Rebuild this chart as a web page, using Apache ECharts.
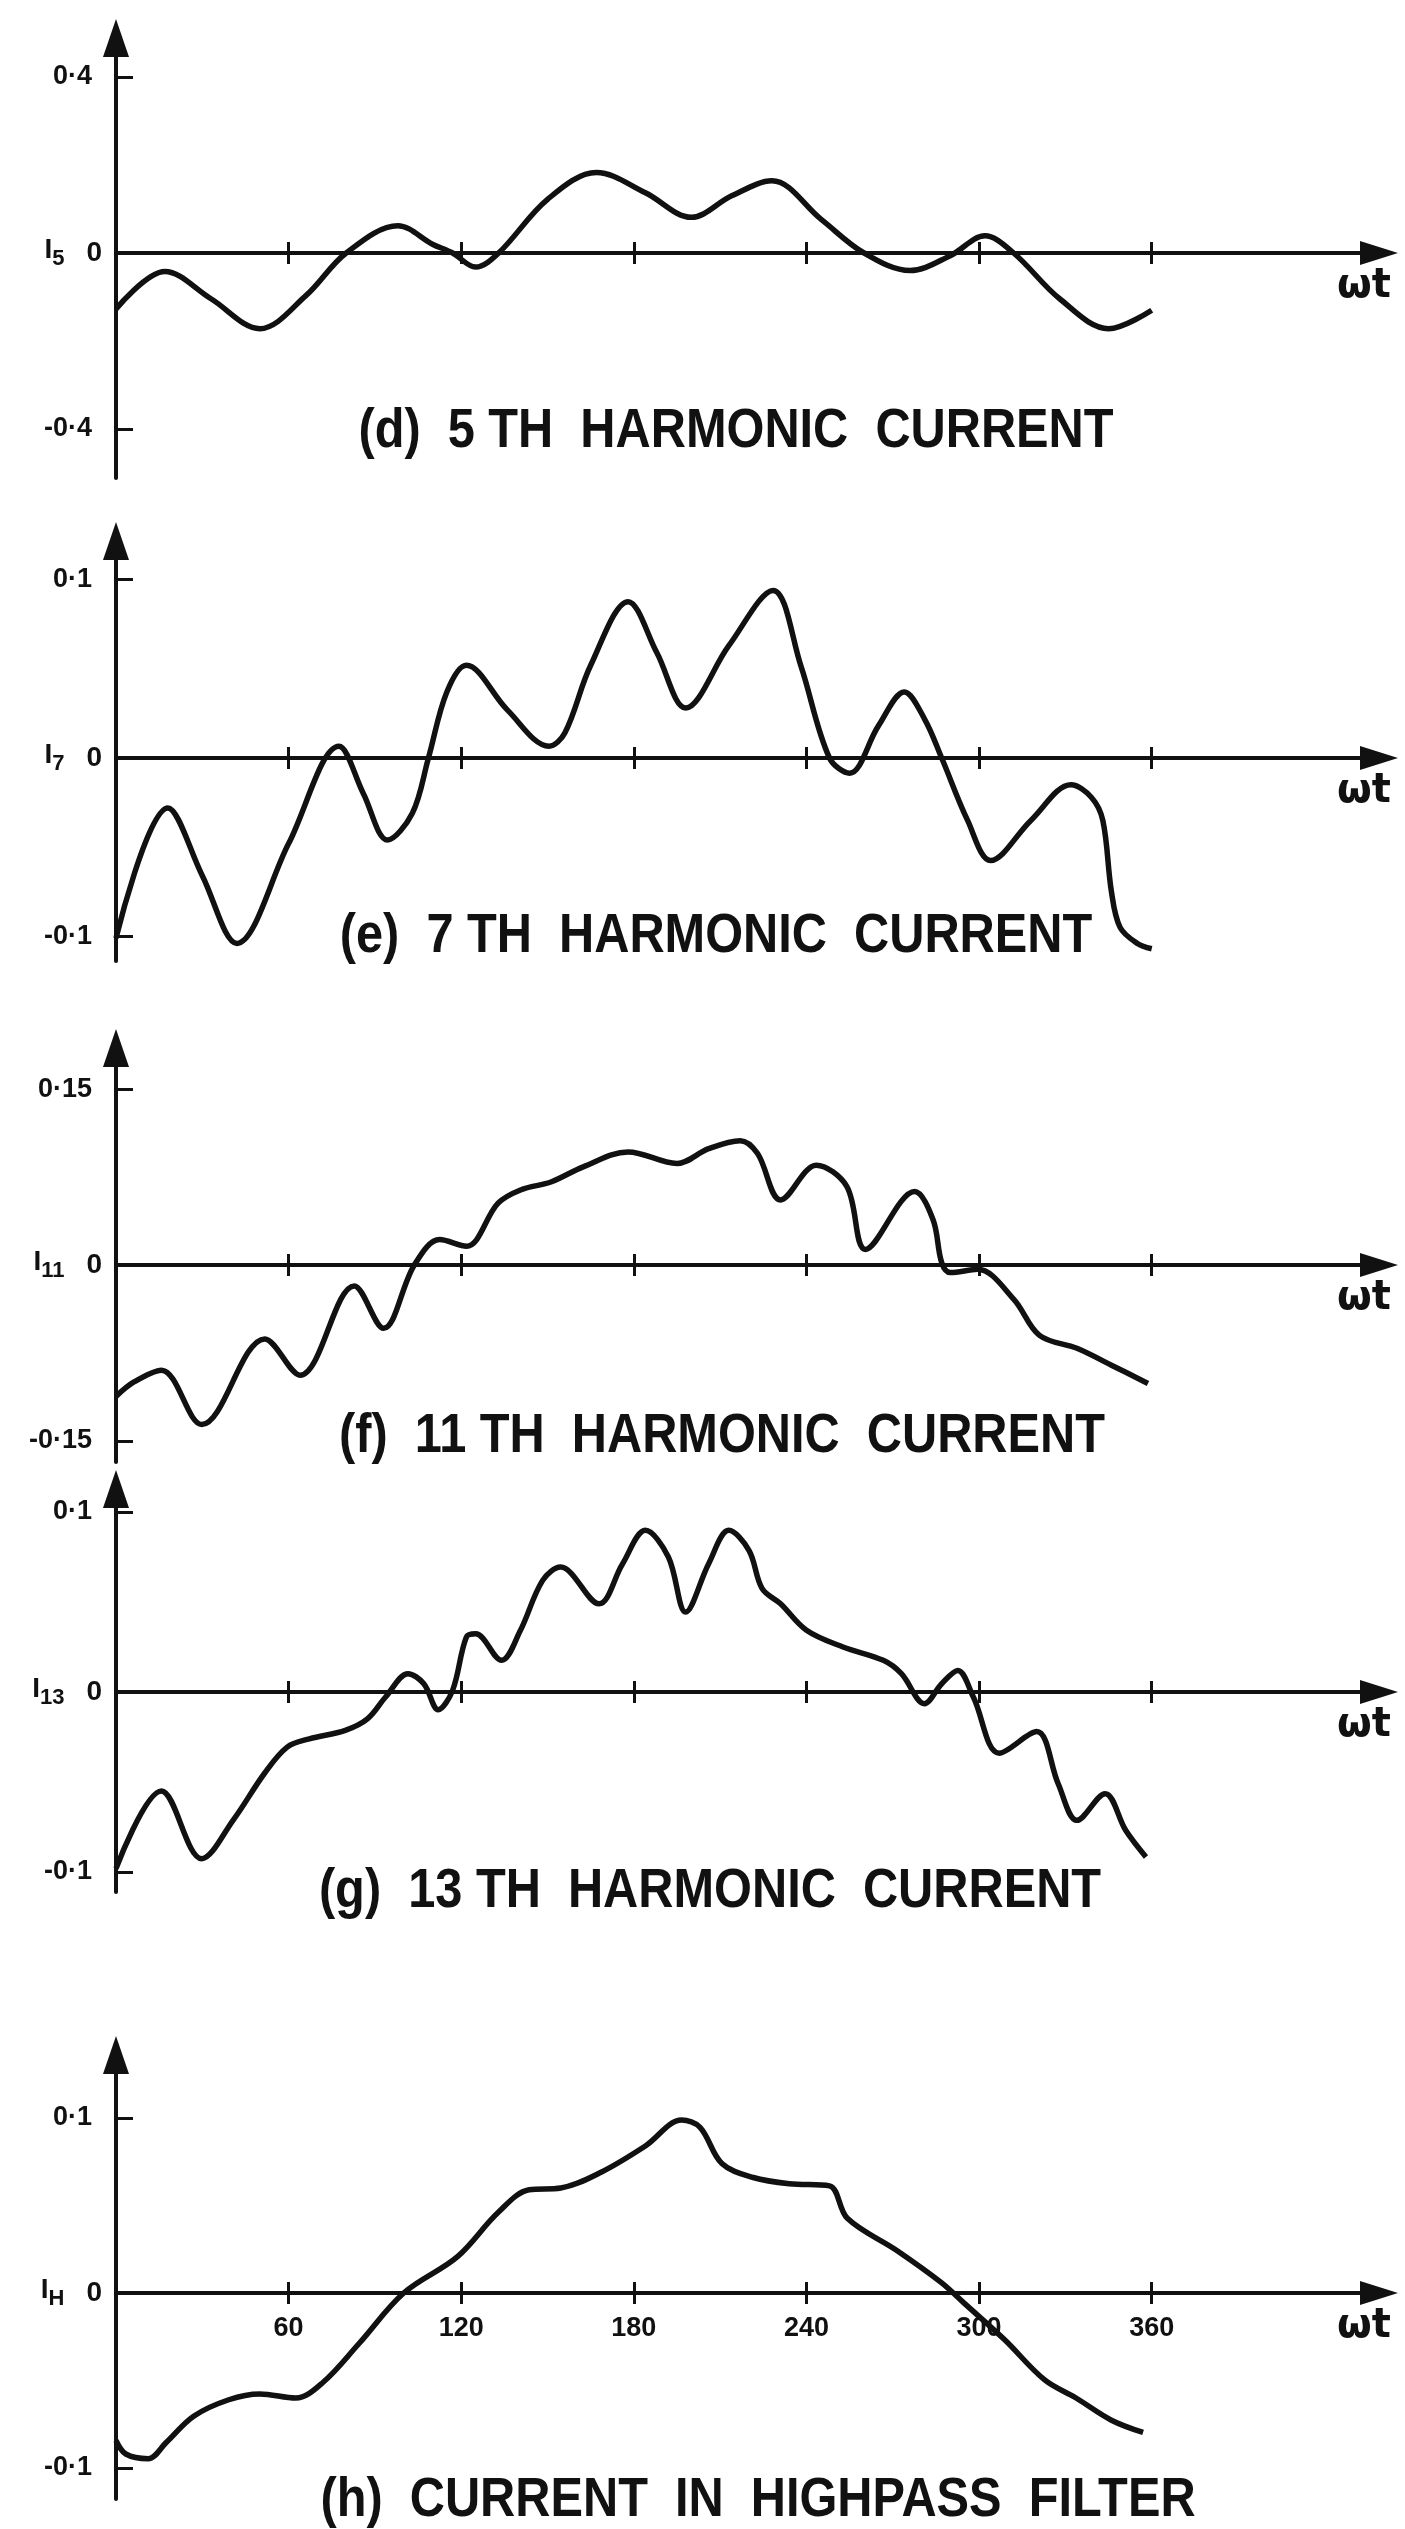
<!DOCTYPE html>
<html>
<head>
<meta charset="utf-8">
<script src="https://cdn.jsdelivr.net/npm/echarts@6.0.0/dist/echarts.min.js"></script>
<style>
html,body{margin:0;padding:0;background:#ffffff;}
#chart{width:1405px;height:2529px;}
</style>
</head>
<body>
<div id="chart"></div>
<script>
// ---------------- data ----------------
const xTickValues = [60, 120, 180, 240, 300, 360];
const xTickLabels = ['60', '120', '180', '240', '300', '360'];

// (d) 5th harmonic current
const dAngle   = [0, 17, 33, 50, 66, 80, 98, 110, 117, 125, 133, 150, 167, 184, 200, 214, 228, 245, 260, 276, 290, 302, 312, 328, 345, 360];
const dCurrent = [-0.127, -0.042, -0.104, -0.172, -0.097, 0, 0.062, 0.02, 0, -0.032, 0, 0.122, 0.183, 0.137, 0.081, 0.13, 0.164, 0.077, 0, -0.04, -0.006, 0.039, 0, -0.104, -0.172, -0.13];

// (e) 7th harmonic current
const eAngle   = [0, 18, 30, 42, 60, 77.5, 86, 94.4, 103, 108.6, 115, 121.8, 136, 150.5, 156, 165, 178, 188, 198, 213, 228.4, 238, 248, 255, 265, 274, 281, 287, 296, 304, 318, 332, 339, 343, 346, 349, 355, 360];
const eCurrent = [-0.101, -0.028, -0.066, -0.104, -0.048, 0.0066, -0.02, -0.046, -0.031, 0, 0.037, 0.052, 0.027, 0.0066, 0.014, 0.052, 0.0877, 0.059, 0.028, 0.063, 0.094, 0.052, 0, -0.0085, 0.018, 0.037, 0.022, 0, -0.035, -0.0575, -0.035, -0.015, -0.022, -0.035, -0.075, -0.095, -0.104, -0.107];

// (f) 11th harmonic current
const fAngle   = [0, 6.4, 15.8, 29.8, 51.7, 64, 82.8, 93, 103.7, 112.5, 121.8, 132.8, 140.6, 151.4, 162.4, 178, 195, 206, 217, 223, 231, 243.4, 254, 260.5, 277.6, 284, 287, 290, 299.5, 312, 321, 334, 346, 358.7];
const fCurrent = [-0.112, -0.0995, -0.0897, -0.136, -0.063, -0.094, -0.0178, -0.054, 0, 0.0217, 0.016, 0.0527, 0.064, 0.071, 0.0837, 0.0964, 0.0866, 0.0992, 0.106, 0.095, 0.0555, 0.085, 0.067, 0.0133, 0.0626, 0.0386, 0.002, -0.0065, -0.0037, -0.029, -0.06, -0.071, -0.0854, -0.101];

// (g) 13th harmonic current
const gAngle   = [0, 15.8, 29.8, 40.8, 51.7, 59.5, 67.2, 79.7, 87.5, 93.7, 101.5, 107, 112, 117, 121.8, 125, 134, 140.5, 148.3, 154.5, 167.9, 176, 184, 192, 198, 206, 213, 220, 224.6, 231, 240, 252.7, 266.7, 273, 281, 287, 292.6, 298, 307, 320, 327.5, 334, 343.8, 351, 358];
const gCurrent = [-0.098, -0.055, -0.0926, -0.071, -0.045, -0.0306, -0.026, -0.0213, -0.0148, -0.0028, 0.0102, 0.0046, -0.0098, 0.0009, 0.0306, 0.0324, 0.0176, 0.034, 0.062, 0.0694, 0.049, 0.071, 0.0898, 0.075, 0.0444, 0.0713, 0.0898, 0.0787, 0.0574, 0.049, 0.0343, 0.025, 0.0176, 0.0102, -0.0065, 0.0046, 0.012, -0.0028, -0.034, -0.022, -0.051, -0.0713, -0.0565, -0.077, -0.0917];

// (h) current in highpass filter
const hAngle   = [0, 3.4, 11.2, 17.4, 27, 39.2, 50, 62.5, 72, 84.4, 100, 118.7, 132.8, 143.6, 154.6, 168.6, 184, 196.6, 203, 210.6, 221.5, 234, 248, 254.2, 271.4, 287, 294.8, 308.8, 322.8, 333.7, 346, 357];
const hCurrent = [-0.0843, -0.092, -0.0947, -0.0855, -0.0704, -0.061, -0.0577, -0.06, -0.051, -0.029, 0, 0.0208, 0.046, 0.059, 0.06, 0.069, 0.084, 0.0988, 0.0947, 0.074, 0.066, 0.0624, 0.0612, 0.0427, 0.0243, 0.0058, -0.0058, -0.0266, -0.0497, -0.06, -0.0727, -0.0797];

const panelTitles = [
  '(d)  5 TH  HARMONIC  CURRENT',
  '(e)  7 TH  HARMONIC  CURRENT',
  '(f)  11 TH  HARMONIC  CURRENT',
  '(g)  13 TH  HARMONIC  CURRENT',
  '(h)  CURRENT  IN  HIGHPASS  FILTER'
];
const yTickValues = [[-0.4, 0.4], [-0.1, 0.1], [-0.15, 0.15], [-0.1, 0.1], [-0.1, 0.1]];
const yTickLabels = [['-0·4', '0·4'], ['-0·1', '0·1'], ['-0·15', '0·15'], ['-0·1', '0·1'], ['-0·1', '0·1']];
const ySubscripts = ['5', '7', '11', '13', 'H'];
const xAxisName = 'ωt';

// ---------------- layout (pixels) ----------------
const layout = [
  {zero: 253,  ppu: 440,  top: 38,   bottom: 478,  titleX: 736, titleY: 432},
  {zero: 758,  ppu: 1783, top: 541,  bottom: 961,  titleX: 716, titleY: 937},
  {zero: 1265, ppu: 1173, top: 1048, bottom: 1462, titleX: 722, titleY: 1437},
  {zero: 1692, ppu: 1800, top: 1489, bottom: 1892, titleX: 710, titleY: 1892},
  {zero: 2293, ppu: 1750, top: 2055, bottom: 2499, titleX: 758, titleY: 2501}
];
const angleSets = [dAngle, eAngle, fAngle, gAngle, hAngle];
const currentSets = [dCurrent, eCurrent, fCurrent, gCurrent, hCurrent];

const GRID_LEFT = 116, GRID_WIDTH = 1263;
const X_MAX = GRID_WIDTH / 2.877;
const INK = '#111111';
const FONT = '"Liberation Sans", Arial, sans-serif';
const TITLE_SCALE_X = 0.87;

const grid = [], xAxis = [], yAxis = [], series = [], graphic = [];

layout.forEach((L, p) => {
  grid.push({left: GRID_LEFT, width: GRID_WIDTH, top: L.top, height: L.bottom - L.top, outerBoundsMode: 'none', containLabel: false});
  const isLast = p === layout.length - 1;
  // main x axis: line, arrow, outward half of ticks, name
  xAxis.push({
    type: 'value', gridIndex: p, min: 0, max: X_MAX, position: 'bottom',
    axisLine: {show: true, onZero: true, onZeroAxisIndex: p, symbol: ['none', 'triangle'], symbolSize: [24, 38],
      lineStyle: {color: INK, width: 4}},
    axisTick: {show: true, customValues: xTickValues, length: 11, lineStyle: {color: INK, width: 3}},
    axisLabel: {show: false},
    splitLine: {show: false},
    name: xAxisName, nameLocation: 'end', nameGap: -15,
    nameTextStyle: {color: INK, fontFamily: 'DejaVu Sans, sans-serif', fontWeight: 'bold', fontSize: 40,
      align: 'center', verticalAlign: 'top', padding: [14, 0, 0, 0]}
  });
  // secondary x axis, shifted up onto the zero line: inward half of ticks + tick labels
  xAxis.push({
    type: 'value', gridIndex: p, min: 0, max: X_MAX, position: 'bottom',
    offset: -(L.bottom - L.zero),
    axisLine: {show: false, onZero: false},
    axisTick: {show: true, inside: true, customValues: xTickValues, length: 11, lineStyle: {color: INK, width: 3}},
    axisLabel: {show: isLast, customValues: xTickValues, margin: 22, color: INK,
      fontFamily: FONT, fontWeight: 'bold', fontSize: 27,
      formatter: v => xTickLabels[xTickValues.indexOf(Math.round(v))] || ''},
    splitLine: {show: false}
  });
  const tv = yTickValues[p], tl = yTickLabels[p], sub = ySubscripts[p];
  yAxis.push({
    type: 'value', gridIndex: p,
    min: -(L.bottom - L.zero) / L.ppu, max: (L.zero - L.top) / L.ppu,
    axisLine: {show: true, onZero: true, symbol: ['none', 'triangle'], symbolSize: [26, 38],
      lineStyle: {color: INK, width: 4}},
    axisTick: {show: true, inside: true, customValues: tv, length: 17, lineStyle: {color: INK, width: 3}},
    axisLabel: {
      show: true, customValues: [tv[0], 0, tv[1]], margin: 14, color: INK,
      fontFamily: FONT, fontWeight: 'bold', fontSize: 27,
      formatter: v => {
        if (Math.abs(v) < 1e-9) return '{i|I}{s|' + sub + '}{z|0}';
        const k = v < 0 ? 0 : 1;
        return '{n|' + tl[k] + '}';
      },
      rich: {
        n: {fontFamily: FONT, fontWeight: 'bold', fontSize: 27, color: INK, padding: [0, 10, 0, 0]},
        i: {fontFamily: FONT, fontWeight: 'bold', fontSize: 28, color: INK, lineHeight: 34, verticalAlign: 'top'},
        s: {fontFamily: FONT, fontWeight: 'bold', fontSize: 22, color: INK, lineHeight: 34, verticalAlign: 'bottom', padding: [10, 0, 0, 0]},
        z: {fontFamily: FONT, fontWeight: 'bold', fontSize: 28, color: INK, lineHeight: 34, padding: [0, 0, 0, 22]}
      }
    },
    splitLine: {show: false}
  });
  const a = angleSets[p], c = currentSets[p];
  series.push({
    type: 'line', xAxisIndex: 2 * p, yAxisIndex: p,
    data: a.map((x, i) => [x, c[i]]),
    showSymbol: false, smooth: 0.35, clip: false,
    lineStyle: {color: INK, width: 5.5}, silent: true
  });
  graphic.push({
    type: 'text', x: L.titleX, y: L.titleY, scaleX: TITLE_SCALE_X,
    style: {text: panelTitles[p], fill: INK, fontFamily: FONT, fontWeight: 'bold', fontSize: 56,
      align: 'center', verticalAlign: 'middle'}
  });
});

const chart = echarts.init(document.getElementById('chart'), null, {renderer: 'canvas'});
chart.setOption({
  backgroundColor: '#ffffff',
  animation: false,
  grid, xAxis, yAxis, series, graphic
});
</script>
</body>
</html>
